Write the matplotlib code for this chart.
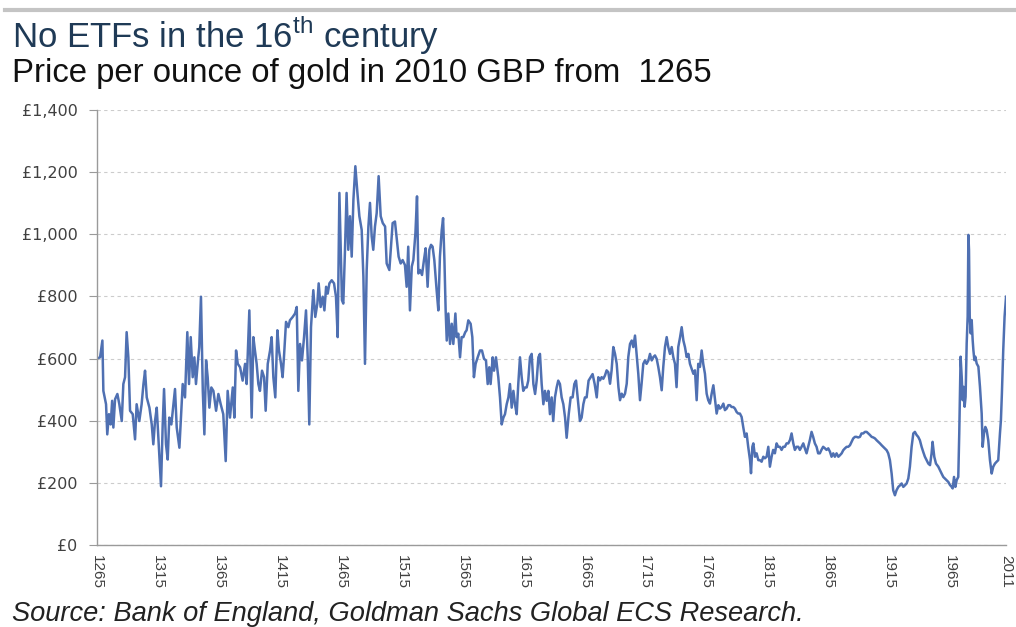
import matplotlib
matplotlib.use("Agg")
import matplotlib.pyplot as plt
from matplotlib.lines import Line2D
from matplotlib.ticker import FuncFormatter

plt.rcParams['font.family'] = ['Liberation Sans', 'DejaVu Sans']
plt.rcParams['mathtext.fontset'] = 'custom'
plt.rcParams['mathtext.rm'] = 'Liberation Sans'

title = "No ETFs in the 16$^{\\rm th}$ century"
subtitle = "Price per ounce of gold in 2010 GBP from  1265"
source = "Source: Bank of England, Goldman Sachs Global ECS Research."

year = [
    1265.0, 1267.5, 1269.4, 1270.2, 1272.4, 1273.4, 1274.8, 1276.2, 1277.4, 1278.4,
    1279.8, 1281.7, 1283.3, 1285.3, 1286.6, 1288.0, 1289.3, 1290.7, 1292.1, 1294.3,
    1296.2, 1297.5, 1299.7, 1301.6, 1303.1, 1304.4, 1305.8, 1308.0, 1309.9, 1311.2,
    1312.6, 1314.0, 1315.9, 1317.5, 1318.9, 1320.0, 1321.6, 1323.0, 1324.3, 1326.0,
    1327.7, 1329.0, 1330.4, 1332.6, 1334.0, 1335.3, 1337.2, 1339.1, 1340.5, 1341.9,
    1343.5, 1344.9, 1346.2, 1347.6, 1348.9, 1350.3, 1351.8, 1353.1, 1354.5, 1355.8,
    1357.2, 1358.8, 1360.5, 1362.7, 1364.6, 1366.5, 1368.6, 1370.6, 1372.2, 1374.1,
    1376.4, 1377.7, 1379.1, 1380.5, 1382.4, 1384.5, 1386.5, 1387.8, 1390.0, 1391.9,
    1393.3, 1394.6, 1396.0, 1397.4, 1398.7, 1400.4, 1402.1, 1403.4, 1405.1, 1407.0,
    1408.3, 1409.7, 1411.3, 1413.0, 1414.3, 1416.0, 1417.3, 1418.4, 1420.1, 1422.0,
    1423.3, 1425.6, 1427.5, 1428.9, 1430.2, 1431.6, 1433.2, 1434.9, 1436.5, 1437.9,
    1439.2, 1440.6, 1442.5, 1444.1, 1445.8, 1446.9, 1448.5, 1450.2, 1451.6, 1453.0,
    1454.3, 1455.7, 1457.6, 1459.5, 1461.1, 1462.5, 1463.9, 1464.9, 1466.0, 1467.1,
    1468.5, 1469.8, 1471.2, 1472.6, 1474.0, 1475.4, 1477.0, 1478.7, 1480.3, 1482.2,
    1483.6, 1484.9, 1486.3, 1487.7, 1489.0, 1490.4, 1491.7, 1493.1, 1494.5, 1496.1,
    1497.8, 1499.5, 1501.4, 1502.7, 1504.9, 1507.6, 1509.5, 1510.8, 1512.5, 1514.2,
    1515.8, 1517.7, 1519.1, 1520.4, 1521.8, 1523.3, 1524.6, 1526.3, 1527.6, 1528.7,
    1530.1, 1531.7, 1533.3, 1534.7, 1536.3, 1537.7, 1539.1, 1540.4, 1541.8, 1543.7,
    1545.1, 1546.4, 1547.9, 1549.0, 1550.1, 1551.1, 1552.0, 1553.3, 1554.7, 1556.1,
    1557.4, 1559.1, 1560.1, 1561.5, 1562.9, 1564.2, 1565.6, 1567.2, 1568.3, 1569.7,
    1571.6, 1573.0, 1574.3, 1575.7, 1577.4, 1579.3, 1580.9, 1582.6, 1584.2, 1585.6,
    1586.9, 1588.0, 1589.7, 1590.8, 1592.4, 1594.3, 1595.7, 1597.1, 1598.5, 1599.8,
    1601.2, 1602.6, 1603.9, 1605.3, 1606.7, 1608.0, 1609.4, 1610.7, 1612.1, 1613.5,
    1614.8, 1616.2, 1617.6, 1618.9, 1620.3, 1621.7, 1623.1, 1624.5, 1625.8, 1627.2,
    1628.5, 1629.9, 1631.3, 1632.6, 1634.0, 1635.4, 1636.7, 1638.1, 1639.4, 1640.8,
    1642.2, 1643.5, 1644.9, 1646.3, 1647.7, 1649.1, 1650.4, 1652.1, 1653.7, 1655.3,
    1656.7, 1658.1, 1660.0, 1661.3, 1662.7, 1664.1, 1665.4, 1666.8, 1668.4, 1670.1,
    1671.7, 1673.4, 1675.1, 1676.4, 1677.8, 1679.1, 1680.5, 1681.9, 1683.2, 1684.6,
    1686.0, 1687.3, 1688.7, 1690.1, 1691.5, 1692.9, 1694.2, 1695.6, 1696.9, 1698.3,
    1699.7, 1701.0, 1702.4, 1703.8, 1705.1, 1706.5, 1707.8, 1709.2, 1710.6, 1711.9,
    1713.3, 1714.7, 1716.0, 1717.5, 1718.8, 1720.2, 1721.6, 1722.9, 1724.3, 1725.6,
    1727.0, 1728.4, 1729.7, 1731.1, 1732.5, 1733.8, 1735.2, 1736.6, 1737.9, 1739.3,
    1740.6, 1742.0, 1743.5, 1744.8, 1746.2, 1747.5, 1748.9, 1750.3, 1751.6, 1753.0,
    1754.4, 1755.7, 1757.1, 1758.4, 1759.8, 1761.2, 1762.5, 1763.9, 1765.3, 1766.6,
    1768.0, 1769.4, 1770.8, 1772.2, 1773.5, 1774.9, 1776.2, 1777.6, 1779.0, 1780.3,
    1781.7, 1783.1, 1784.4, 1785.8, 1787.2, 1788.5, 1789.9, 1791.2, 1792.6, 1794.0,
    1795.3, 1796.7, 1798.1, 1799.4, 1800.9, 1801.7, 1802.8, 1803.6, 1805.0, 1806.3,
    1807.7, 1809.0, 1810.4, 1811.8, 1813.1, 1814.5, 1815.9, 1817.2, 1818.6, 1819.9,
    1821.3, 1822.7, 1824.0, 1825.4, 1826.8, 1828.1, 1829.5, 1830.9, 1832.3, 1833.7,
    1835.0, 1836.4, 1837.7, 1839.1, 1840.5, 1841.8, 1843.2, 1844.6, 1845.9, 1847.3,
    1848.6, 1850.0, 1851.4, 1852.7, 1854.1, 1855.5, 1856.8, 1858.2, 1859.5, 1860.9,
    1862.4, 1863.7, 1865.1, 1866.5, 1867.8, 1869.2, 1870.5, 1871.9, 1873.4, 1874.7,
    1876.1, 1877.4, 1878.8, 1880.2, 1881.5, 1882.9, 1884.3, 1885.6, 1887.0, 1888.3,
    1889.7, 1891.1, 1892.4, 1893.8, 1895.2, 1896.6, 1898.0, 1899.3, 1900.7, 1902.1,
    1903.4, 1904.8, 1906.2, 1907.5, 1908.9, 1910.2, 1911.6, 1913.0, 1914.3, 1915.7,
    1917.1, 1918.4, 1919.8, 1921.1, 1922.6, 1924.0, 1925.3, 1926.7, 1928.0, 1929.4,
    1930.8, 1932.1, 1933.5, 1934.9, 1936.2, 1937.6, 1938.9, 1940.3, 1941.7, 1943.0,
    1944.4, 1945.8, 1947.2, 1948.6, 1949.9, 1950.7, 1952.1, 1953.5, 1955.4, 1956.7,
    1958.1, 1959.5, 1960.8, 1962.2, 1963.6, 1965.0, 1966.4, 1967.2, 1968.3, 1969.4,
    1970.5, 1971.8, 1972.6, 1973.7, 1974.6, 1975.4, 1976.2, 1977.0, 1977.8, 1978.7,
    1979.5, 1980.1, 1980.6, 1981.2, 1982.0, 1982.8, 1983.6, 1984.2, 1985.0, 1985.8,
    1986.9, 1988.3, 1989.6, 1991.0, 1991.8, 1992.9, 1994.0, 1995.1, 1996.4, 1997.8,
    1999.2, 2000.5, 2001.9, 2003.3, 2004.6, 2006.0, 2006.8, 2007.6, 2008.7, 2009.8,
    2011.0,
]

price_gbp = [
    600, 604, 658, 496, 453, 356, 421, 388, 464, 378,
    469, 486, 453, 399, 518, 540, 685, 604, 432, 421,
    340, 453, 399, 453, 518, 561, 475, 442, 388, 324,
    399, 442, 302, 189, 388, 502, 324, 275, 410, 388,
    453, 502, 378, 313, 421, 518, 475, 685, 518, 669,
    540, 604, 518, 583, 637, 799, 496, 356, 594, 540,
    442, 507, 496, 432, 486, 453, 421, 270, 496, 410,
    507, 410, 626, 583, 572, 529, 583, 518, 755, 410,
    669, 626, 583, 518, 496, 561, 540, 432, 583, 626,
    669, 540, 475, 691, 626, 583, 540, 604, 718, 701,
    723, 734, 745, 766, 496, 647, 594, 669, 755, 604,
    388, 701, 820, 734, 777, 842, 766, 799, 755, 831,
    809, 842, 852, 842, 799, 669, 1133, 971, 788, 777,
    950, 1133, 950, 1058, 928, 1111, 1219, 1133, 1058, 1014,
    863, 583, 885, 1025, 1101, 993, 950, 1025, 1068, 1187,
    1058, 1036, 1025, 906, 885, 1036, 1041, 993, 928, 906,
    917, 901, 831, 960, 755, 896, 917, 1004, 1122, 874,
    885, 869, 917, 955, 831, 950, 966, 960, 917, 820,
    755, 928, 1014, 1052, 917, 755, 658, 745, 647, 712,
    647, 745, 669, 680, 604, 669, 669, 685, 691, 723,
    712, 669, 540, 583, 604, 626, 626, 599, 594, 518,
    572, 518, 604, 561, 604, 540, 475, 388, 410, 421,
    453, 475, 518, 442, 496, 453, 421, 518, 604, 540,
    496, 507, 507, 529, 604, 615, 518, 486, 529, 604,
    615, 518, 453, 496, 464, 496, 421, 475, 399, 475,
    507, 529, 518, 475, 453, 410, 345, 421, 475, 475,
    518, 529, 453, 399, 410, 453, 475, 475, 529, 540,
    550, 518, 475, 540, 530, 540, 535, 546, 562, 556,
    519, 562, 637, 615, 583, 508, 466, 487, 476, 487,
    519, 605, 647, 658, 637, 674, 615, 551, 466, 519,
    583, 594, 583, 594, 615, 594, 605, 610, 599, 573,
    540, 498, 573, 637, 669, 637, 615, 637, 605, 583,
    508, 637, 669, 701, 658, 637, 605, 615, 583, 567,
    551, 562, 466, 583, 573, 626, 583, 551, 487, 466,
    455, 487, 514, 466, 423, 450, 439, 444, 455, 434,
    439, 450, 450, 444, 444, 439, 428, 423, 423, 412,
    380, 348, 359, 316, 273, 231, 316, 327, 284, 295,
    273, 273, 268, 284, 279, 284, 316, 252, 284, 306,
    295, 327, 316, 316, 306, 316, 316, 327, 327, 338,
    359, 327, 306, 316, 316, 306, 316, 327, 311, 295,
    316, 338, 364, 348, 327, 316, 295, 295, 306, 316,
    311, 306, 311, 300, 284, 295, 284, 295, 284, 289,
    295, 305, 311, 316, 316, 321, 332, 343, 348, 348,
    346, 348, 359, 359, 364, 364, 359, 354, 348, 346,
    343, 337, 332, 327, 321, 316, 311, 305, 295, 273,
    230, 176, 160, 176, 187, 192, 198, 187, 192, 198,
    214, 252, 316, 359, 364, 354, 348, 337, 316, 300,
    284, 273, 262, 257, 295, 332, 284, 262, 252, 241,
    230, 219, 214, 209, 203, 193, 187, 182, 219, 187,
    209, 219, 359, 606, 542, 466, 509, 445, 477, 649,
    735, 998, 950, 735, 681, 724, 660, 627, 595, 606,
    584, 574, 509, 423, 316, 359, 380, 370, 337, 273,
    230, 252, 262, 268, 273, 359, 402, 488, 627, 735,
    799,
]

tick_years = [1265, 1315, 1365, 1415, 1465, 1515, 1565, 1615, 1665,
              1715, 1765, 1815, 1865, 1915, 1965, 2011]
y_ticks = [0, 200, 400, 600, 800, 1000, 1200, 1400]

fig = plt.figure(figsize=(10.16, 6.27), dpi=100)
ax = fig.add_axes([0.0955, 0.1308, 0.8947, 0.6938])

ax.plot(year, price_gbp, color='#4f70b2', lw=1.8, solid_joinstyle='round')

ax.set_xlim(1265, 2011)
ax.set_ylim(0, 1400)
ax.set_yticks(y_ticks)
ax.yaxis.set_major_formatter(FuncFormatter(lambda v, p: "£{:,.0f}".format(v)))
ax.set_xticks(tick_years)
ax.set_xticklabels([str(t) for t in tick_years], rotation=-90, va='top', ha='center')

ax.grid(axis='y', color='#cccccc', linestyle=(0, (3, 3)), lw=0.8)
ax.set_axisbelow(True)
for s in ['top', 'right']:
    ax.spines[s].set_visible(False)
for s in ['left', 'bottom']:
    ax.spines[s].set_color('#9a9a9a')
    ax.spines[s].set_linewidth(1.0)

ax.tick_params(axis='y', direction='out', length=6, color='#9a9a9a', pad=8,
               labelsize=11.5, labelcolor='#404040')
for lab in ax.get_yticklabels():
    lab.set_family('DejaVu Sans')
ax.tick_params(axis='x', length=0, pad=7, labelsize=11, labelcolor='#404040')

fig.add_artist(Line2D([0.005, 1.0], [0.984, 0.984], transform=fig.transFigure,
                      color='#c4c4c4', lw=3))

fig.text(0.0118, 0.923, title, fontsize=25, color='#1f3a56', ha='left', va='baseline')
fig.text(0.0118, 0.869, subtitle, fontsize=23.7, color='#111111', ha='left', va='baseline')
fig.text(0.0118, 0.010, source, fontsize=19.6, style='italic', color='#222222',
         ha='left', va='baseline')

fig.savefig('out.png', dpi=100)
